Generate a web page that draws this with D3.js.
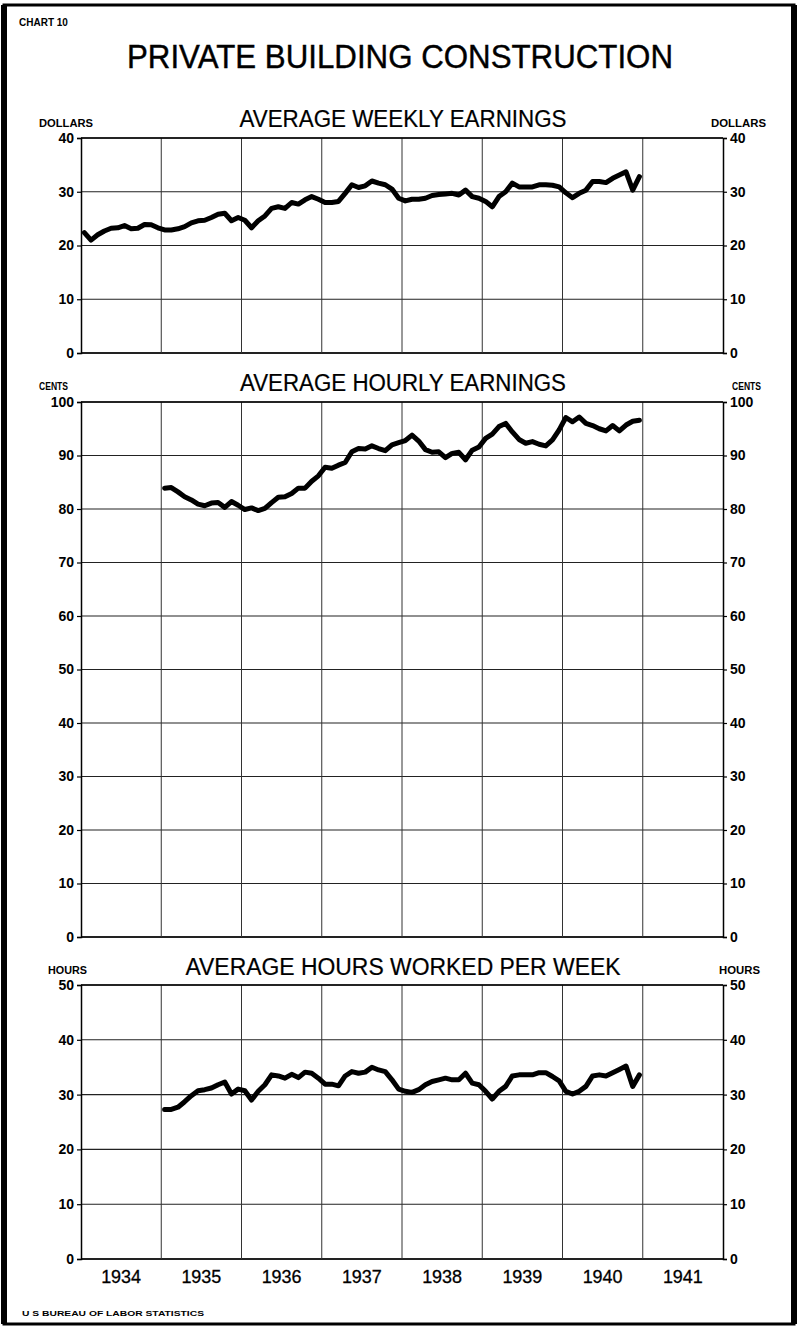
<!DOCTYPE html>
<html><head><meta charset="utf-8">
<script src="https://cdn.jsdelivr.net/npm/d3@7/dist/d3.min.js"></script>
<style>body{margin:0;background:#fff}svg{display:block}</style>
</head><body>
<script>
// ---------------- DATA ----------------
const years = [1934, 1935, 1936, 1937, 1938, 1939, 1940, 1941];
// Monthly values, Jan 1934 - Dec 1940 (dollars)
const weeklyEarnings = [
  22.4,21.0,22.0,22.7,23.2,23.3,23.7,23.1,23.2,23.9,23.85,23.3,
  22.9,22.9,23.1,23.5,24.2,24.6,24.7,25.2,25.8,26.0,24.6,25.2,
  24.7,23.3,24.6,25.5,26.9,27.2,26.9,28.0,27.7,28.5,29.1,28.6,
  28.0,28.0,28.2,29.7,31.3,30.8,31.1,32.0,31.6,31.3,30.5,28.8,
  28.3,28.6,28.6,28.8,29.3,29.5,29.6,29.7,29.4,30.3,29.1,28.8,
  28.2,27.2,29.1,30.0,31.6,30.9,30.9,30.9,31.3,31.3,31.2,30.9,
  29.8,28.9,29.7,30.3,31.9,31.9,31.7,32.5,33.1,33.7,30.3,32.8
];
// Monthly values, Jan 1935 - Dec 1940 (cents)
const hourlyEarnings = [
  83.9,84.0,83.2,82.3,81.7,80.9,80.6,81.1,81.2,80.3,81.4,80.7,
  79.9,80.2,79.7,80.1,81.2,82.2,82.3,82.9,83.9,83.9,85.2,86.2,
  87.8,87.6,88.2,88.7,90.7,91.3,91.2,91.8,91.3,90.9,92.0,92.4,
  92.8,93.8,92.7,91.1,90.6,90.7,89.6,90.4,90.6,89.2,91.0,91.6,
  93.2,94.0,95.4,96.0,94.4,93.0,92.3,92.6,92.1,91.8,92.9,94.8,
  97.1,96.3,97.2,96.0,95.6,95.0,94.6,95.6,94.6,95.7,96.4,96.6
];
// Monthly values, Jan 1935 - Dec 1940 (hours)
const hoursPerWeek = [
  27.3,27.3,27.7,28.7,29.8,30.7,30.9,31.2,31.8,32.3,30.1,31.0,
  30.7,29.0,30.6,31.8,33.6,33.4,33.0,33.7,33.1,34.1,33.9,33.0,
  31.9,31.9,31.6,33.4,34.2,33.9,34.1,35.0,34.5,34.2,32.7,31.0,
  30.6,30.4,30.9,31.8,32.4,32.7,33.0,32.7,32.7,33.9,32.1,31.8,
  30.6,29.2,30.6,31.5,33.4,33.6,33.6,33.6,34.0,34.0,33.3,32.5,
  30.6,30.1,30.6,31.5,33.4,33.6,33.4,34.0,34.6,35.2,31.5,33.6
];
const weeklyTicks = [0, 10, 20, 30, 40];
const hourlyTicks = [0, 10, 20, 30, 40, 50, 60, 70, 80, 90, 100];
const hoursTicks = [0, 10, 20, 30, 40, 50];
const seriesStartYear = {weekly: 1934, hourly: 1935, hours: 1935};

// ---------------- LAYOUT ----------------
const W = 799, H = 1330;
const FONT = "'Liberation Sans', Arial, sans-serif";
const svg = d3.select("body").append("svg").attr("width", W).attr("height", H);
svg.append("rect").attr("width", W).attr("height", H).attr("fill", "#fff");

// outer frame
svg.append("rect").attr("x", 4).attr("y", 5).attr("width", 790).attr("height", 1319)
  .attr("fill", "none").attr("stroke", "#000").attr("stroke-width", 3);
svg.append("line").attr("x1", 4).attr("x2", 4).attr("y1", 5).attr("y2", 1324)
  .attr("stroke", "#000").attr("stroke-width", 6);
svg.append("line").attr("x1", 794).attr("x2", 794).attr("y1", 5).attr("y2", 1324)
  .attr("stroke", "#000").attr("stroke-width", 6);

svg.append("text").attr("x", 19).attr("y", 26).attr("font-family", FONT)
  .attr("font-weight", "bold").attr("font-size", 10).text("CHART 10");

svg.append("text").attr("x", 400).attr("y", 68).attr("text-anchor", "middle")
  .attr("font-family", FONT).attr("font-size", 33)
  .attr("stroke", "#000").attr("stroke-width", 0.4)
  .attr("textLength", 546).attr("lengthAdjust", "spacingAndGlyphs")
  .text("PRIVATE BUILDING CONSTRUCTION");

svg.append("text").attr("x", 22).attr("y", 1316).attr("font-family", FONT)
  .attr("font-weight", "bold").attr("font-size", 7.5)
  .attr("textLength", 182).attr("lengthAdjust", "spacingAndGlyphs")
  .text("U S BUREAU OF LABOR STATISTICS");

const x = d3.scaleLinear().domain([1934, 1942]).range([81, 723]);

const panels = [
  {title: "AVERAGE WEEKLY EARNINGS", unit: "DOLLARS", data: weeklyEarnings, start: seriesStartYear.weekly,
   ticks: weeklyTicks, top: 138, bottom: 353, titleY: 127, titleW: 327, unitY: 127, unitLX: 39, unitLW: 54, unitRX: 711, unitRW: 55},
  {title: "AVERAGE HOURLY EARNINGS", unit: "CENTS", data: hourlyEarnings, start: seriesStartYear.hourly,
   ticks: hourlyTicks, top: 402, bottom: 937, titleY: 391, titleW: 326, unitY: 390, unitLX: 39, unitLW: 29, unitRX: 732, unitRW: 29},
  {title: "AVERAGE HOURS WORKED PER WEEK", unit: "HOURS", data: hoursPerWeek, start: seriesStartYear.hours,
   ticks: hoursTicks, top: 985, bottom: 1259, titleY: 975, titleW: 435, unitY: 974, unitLX: 48, unitLW: 39, unitRX: 719, unitRW: 41}
];

panels.forEach(p => {
  const g = svg.append("g");
  const y = d3.scaleLinear().domain([d3.min(p.ticks), d3.max(p.ticks)]).range([p.bottom, p.top]);

  // title
  g.append("text").attr("x", 403).attr("y", p.titleY).attr("text-anchor", "middle")
    .attr("font-family", FONT).attr("font-size", 23)
    .attr("stroke", "#000").attr("stroke-width", 0.2)
    .attr("textLength", p.titleW).attr("lengthAdjust", "spacingAndGlyphs").text(p.title);
  // unit labels
  g.append("text").attr("x", p.unitLX).attr("y", p.unitY).attr("font-family", FONT)
    .attr("font-weight", "bold").attr("font-size", 10)
    .attr("textLength", p.unitLW).attr("lengthAdjust", "spacingAndGlyphs").text(p.unit);
  g.append("text").attr("x", p.unitRX).attr("y", p.unitY).attr("font-family", FONT)
    .attr("font-weight", "bold").attr("font-size", 10)
    .attr("textLength", p.unitRW).attr("lengthAdjust", "spacingAndGlyphs").text(p.unit);

  // horizontal grid
  g.selectAll(".hg").data(p.ticks).join("line")
    .attr("x1", x(1934)).attr("x2", x(1942))
    .attr("y1", d => y(d)).attr("y2", d => y(d))
    .attr("stroke", "#222").attr("stroke-width", d => d === 0 ? 2 : 1.1);
  // vertical grid at year boundaries
  g.selectAll(".vg").data(d3.range(1935, 1942)).join("line")
    .attr("x1", d => x(d)).attr("x2", d => x(d))
    .attr("y1", p.top).attr("y2", p.bottom)
    .attr("stroke", "#333").attr("stroke-width", 1);

  // left / right axes
  const la = g.append("g").attr("transform", `translate(${x(1934)},0)`)
    .call(d3.axisLeft(y).tickValues(p.ticks).tickSize(4).tickPadding(3).tickFormat(d3.format("d")));
  const ra = g.append("g").attr("transform", `translate(${x(1942)},0)`)
    .call(d3.axisRight(y).tickValues(p.ticks).tickSize(4).tickPadding(3).tickFormat(d3.format("d")));
  [la, ra].forEach(a => {
    a.select(".domain").attr("stroke", "#000").attr("stroke-width", 1.5);
    a.selectAll(".tick line").attr("stroke", "#000").attr("stroke-width", 1.2);
    a.selectAll(".tick text").attr("font-family", FONT).attr("font-weight", "bold")
      .attr("font-size", 14).attr("fill", "#000");
  });
  // top border
  g.append("line").attr("x1", x(1934)).attr("x2", x(1942)).attr("y1", p.top).attr("y2", p.top)
    .attr("stroke", "#000").attr("stroke-width", 1.3);

  // data line
  const line = d3.line()
    .x((d, i) => x(p.start + (i + 0.5) / 12))
    .y(d => y(d));
  g.append("path").datum(p.data).attr("d", line)
    .attr("fill", "none").attr("stroke", "#000").attr("stroke-width", 5)
    .attr("stroke-linejoin", "round").attr("stroke-linecap", "round");
});

// year labels
svg.append("g").selectAll("text").data(years).join("text")
  .attr("x", d => x(d + 0.5)).attr("y", 1283).attr("text-anchor", "middle")
  .attr("font-family", FONT).attr("font-size", 19)
  .attr("stroke", "#000").attr("stroke-width", 0.3)
  .attr("textLength", 40).attr("lengthAdjust", "spacingAndGlyphs")
  .text(d => d);
</script>
</body></html>
